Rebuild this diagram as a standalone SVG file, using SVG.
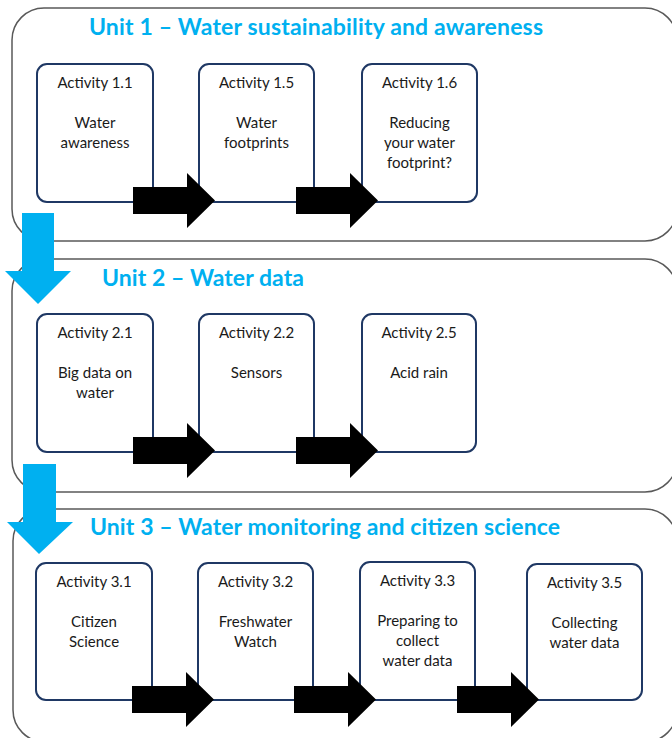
<svg xmlns="http://www.w3.org/2000/svg" width="672" height="738" viewBox="0 0 672 738">
<defs>
<style>
.unit{fill:#fff;stroke:#595959;stroke-width:1.5}
.act{fill:#fff;stroke:#1F3864;stroke-width:2}
.title{font-family:Lato,"Liberation Sans",sans-serif;font-weight:bold;font-size:23px;fill:#00B0F0}
.t{font-family:Lato,"Liberation Sans",sans-serif;font-size:15px;fill:#1a1a1a;text-anchor:middle}
.blk{fill:#000}
.blue{fill:#00B0F0}
</style>
<path id="harrow" d="M0,187 H54 V173 L82,200.5 L54,228 V214 H0 Z"/>
</defs>
<rect width="672" height="738" fill="#fff"/>
<g id="unit1">
<rect class="unit" x="12" y="8" width="665" height="233" rx="32"/>
<text class="title" x="89" y="35" textLength="454">Unit 1 – Water sustainability and awareness</text>
</g>
<g id="unit2">
<rect class="unit" x="12" y="259" width="665" height="233" rx="32"/>
<text class="title" x="102" y="286" textLength="202">Unit 2 – Water data</text>
</g>
<g id="unit3">
<rect class="unit" x="13" y="509" width="664" height="233" rx="32"/>
<text class="title" x="90" y="535" textLength="470">Unit 3 – Water monitoring and citizen science</text>
</g>
<g id="a11"><rect class="act" x="37" y="64" width="116" height="138" rx="10"/>
<text class="t" x="95" y="88">Activity 1.1</text><text class="t" x="95" y="128">Water</text><text class="t" x="95" y="148">awareness</text></g>
<g id="a15"><rect class="act" x="199" y="64" width="115" height="138" rx="10"/>
<text class="t" x="256.5" y="88">Activity 1.5</text><text class="t" x="256.5" y="128">Water</text><text class="t" x="256.5" y="148">footprints</text></g>
<g id="a16"><rect class="act" x="362" y="64" width="115" height="138" rx="10"/>
<text class="t" x="419.5" y="88">Activity 1.6</text><text class="t" x="419.5" y="128">Reducing</text><text class="t" x="419.5" y="148">your water</text><text class="t" x="419.5" y="168">footprint?</text></g>
<g id="a21"><rect class="act" x="37" y="314" width="116" height="138" rx="10"/>
<text class="t" x="95" y="338">Activity 2.1</text><text class="t" x="95" y="378">Big data on</text><text class="t" x="95" y="398">water</text></g>
<g id="a22"><rect class="act" x="199" y="314" width="115" height="138" rx="10"/>
<text class="t" x="256.5" y="338">Activity 2.2</text><text class="t" x="256.5" y="378">Sensors</text></g>
<g id="a25"><rect class="act" x="362" y="314" width="114" height="138" rx="10"/>
<text class="t" x="419" y="338">Activity 2.5</text><text class="t" x="419" y="378">Acid rain</text></g>
<g id="a31"><rect class="act" x="36" y="563" width="116" height="137" rx="10"/>
<text class="t" x="94" y="587">Activity 3.1</text><text class="t" x="94" y="627">Citizen</text><text class="t" x="94" y="647">Science</text></g>
<g id="a32"><rect class="act" x="198" y="563" width="115" height="137" rx="10"/>
<text class="t" x="255.5" y="587">Activity 3.2</text><text class="t" x="255.5" y="627">Freshwater</text><text class="t" x="255.5" y="647">Watch</text></g>
<g id="a33"><rect class="act" x="360" y="562" width="115" height="138" rx="10"/>
<text class="t" x="417.5" y="586">Activity 3.3</text><text class="t" x="417.5" y="626">Preparing to</text><text class="t" x="417.5" y="646">collect</text><text class="t" x="417.5" y="666">water data</text></g>
<g id="a35"><rect class="act" x="527" y="564" width="115" height="136" rx="10"/>
<text class="t" x="584.5" y="588">Activity 3.5</text><text class="t" x="584.5" y="628">Collecting</text><text class="t" x="584.5" y="648">water data</text></g>
<g id="connectors">
<use href="#harrow" class="blk" x="133" y="0"/>
<use href="#harrow" class="blk" x="296" y="0"/>
<use href="#harrow" class="blk" x="133" y="250"/>
<use href="#harrow" class="blk" x="296" y="250"/>
<use href="#harrow" class="blk" x="132" y="499"/>
<use href="#harrow" class="blk" x="294" y="499"/>
<use href="#harrow" class="blk" x="457" y="499"/>
<path class="blue" d="M22,213 H54 V271 H71 L38,304 L5,271 H22 Z"/>
<path class="blue" d="M23,464 H56 V522 H73 L39,554 L7,522 H23 Z"/>
</g>
</svg>
